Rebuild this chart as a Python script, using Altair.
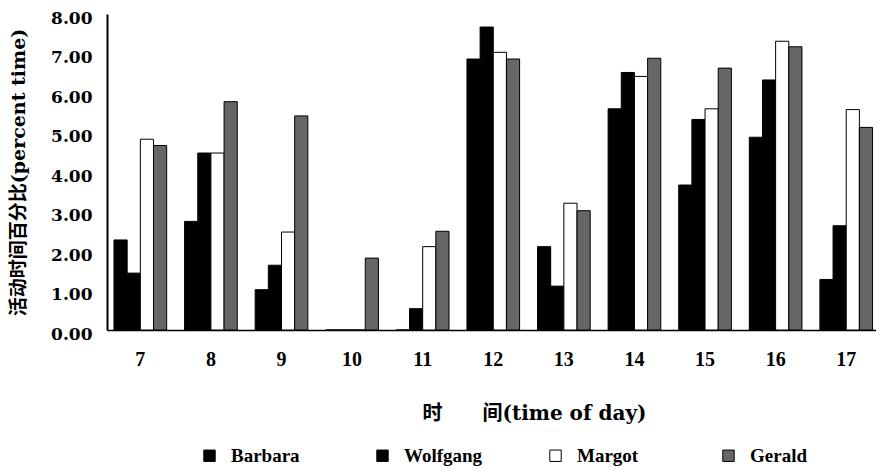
import altair as alt
import pandas as pd

hours = [7, 8, 9, 10, 11, 12, 13, 14, 15, 16, 17]
names = ["Barbara", "Wolfgang", "Margot", "Gerald"]
barbara = [2.28, 2.75, 1.02, 0.0, 0.0, 6.86, 2.11, 5.60, 3.67, 4.88, 1.28]
wolfgang = [1.44, 4.48, 1.64, 0.0, 0.54, 7.67, 1.11, 6.52, 5.33, 6.33, 2.64]
margot = [4.83, 4.48, 2.48, 0.0, 2.11, 7.03, 3.21, 6.42, 5.60, 7.31, 5.58]
gerald = [4.67, 5.78, 5.42, 1.82, 2.50, 6.86, 3.02, 6.88, 6.63, 7.17, 5.13]
colors = ["#000000", "#000000", "#ffffff", "#666666"]
y_ticks = [0, 1, 2, 3, 4, 5, 6, 7, 8]

series = {"Barbara": barbara, "Wolfgang": wolfgang, "Margot": margot, "Gerald": gerald}
rows = []
for n in names:
    for h, v in zip(hours, series[n]):
        rows.append({"hour": h, "name": n, "value": v})
df = pd.DataFrame(rows)

serif = "Liberation Serif"
wide = "DejaVu Serif, Noto Sans CJK SC"

chart = (
    alt.Chart(df)
    .mark_bar(stroke="black", strokeWidth=1)
    .encode(
        x=alt.X(
            "hour:O",
            scale=alt.Scale(domain=hours, paddingInner=0.254, paddingOuter=0.074, align=0.67),
            axis=alt.Axis(
                title="时\u3000\u3000间(time of day)",
                titleFont=wide,
                titleFontSize=20,
                titleFontWeight="bold",
                titleColor="black",
                titleX=427,
                titleY=83,
                titleAlign="center",
                titleBaseline="middle",
                labelFont=serif,
                labelFontSize=20,
                labelFontWeight="bold",
                labelColor="black",
                labelAngle=0,
                labelPadding=19,
                ticks=False,
                domainColor="black",
                domainWidth=1.5,
                grid=False,
            ),
        ),
        xOffset=alt.XOffset("name:N", scale=alt.Scale(domain=names, paddingInner=0, paddingOuter=0)),
        y=alt.Y(
            "value:Q",
            scale=alt.Scale(domain=[0, 8], nice=False),
            axis=alt.Axis(
                title="活动时间百分比(percent time)",
                titleFont=wide,
                titleFontSize=19,
                titleFontWeight="bold",
                titleColor="black",
                titleX=-89,
                titleY=158,
                titleAngle=270,
                titleAlign="center",
                titleBaseline="middle",
                values=y_ticks,
                format=".2f",
                labelFont="DejaVu Serif",
                labelFontSize=17,
                labelFontWeight="bold",
                labelColor="black",
                labelPadding=15,
                labelOffset=4,
                ticks=False,
                domainColor="black",
                domainWidth=2,
                grid=False,
            ),
        ),
        fill=alt.Fill(
            "name:N",
            scale=alt.Scale(domain=names, range=colors),
            legend=alt.Legend(
                title=None,
                orient="none",
                legendX=93,
                legendY=432,
                direction="horizontal",
                columns=4,
                gridAlign="all",
                columnPadding=63,
                padding=0,
                symbolType="square",
                symbolSize=130,
                symbolStrokeColor="black",
                symbolStrokeWidth=1,
                labelFont=serif,
                labelFontSize=19,
                labelFontWeight="bold",
                labelColor="black",
                labelOffset=12,
            ),
        ),
    )
    .properties(
        width=769,
        height=316,
        autosize=alt.AutoSizeParams(type="none"),
        padding={"left": 99, "top": 6, "right": 0, "bottom": 136},
    )
    .configure_view(stroke=None)
)

chart.save("out.html", embed_options={"renderer": "svg", "actions": False})
